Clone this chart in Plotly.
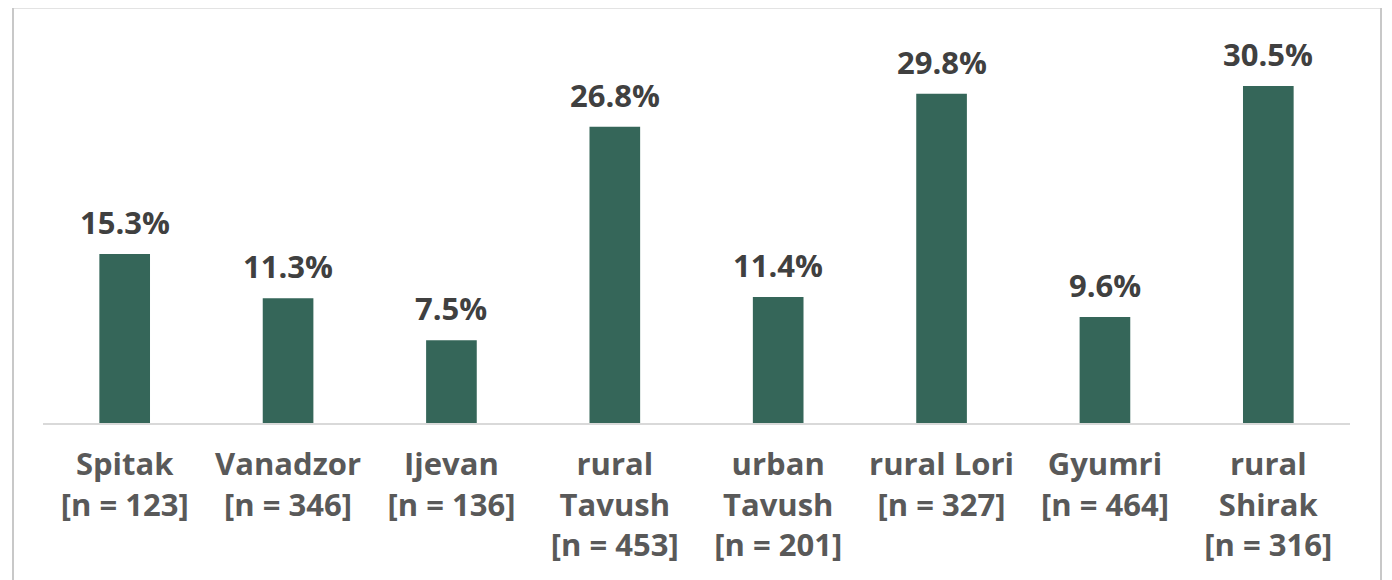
import plotly.graph_objects as go

categories = ["Spitak<br>[n = 123]", "Vanadzor<br>[n = 346]", "Ijevan<br>[n = 136]",
              "rural<br>Tavush<br>[n = 453]", "urban<br>Tavush<br>[n = 201]",
              "rural Lori<br>[n = 327]", "Gyumri<br>[n = 464]", "rural<br>Shirak<br>[n = 316]"]
values = [15.3, 11.3, 7.5, 26.8, 11.4, 29.8, 9.6, 30.5]
labels = [f"{v:.1f}%" for v in values]

# page body has an 8px margin, so figure coords = screen coords - 8
OFF = 8
W, H = 1392 - OFF, 580 - OFF
plot_left, plot_right, plot_top, plot_bottom = 43, 1350, 30, 423  # screen px
ml, mt = plot_left - OFF, plot_top - OFF
mr = W - (plot_right - OFF)
mb = H - (plot_bottom - OFF)
pw, ph = W - ml - mr, H - mt - mb

FONT = "Open Sans"

fig = go.Figure(go.Bar(
    x=categories, y=values,
    marker=dict(color="#356659", line=dict(width=0)),
    cliponaxis=False, width=0.31, hoverinfo="skip",
))

annotations = [dict(x=c, y=v, text=t, xref="x", yref="y", showarrow=False,
                    yanchor="bottom", yshift=9,
                    font=dict(family=FONT, size=31, color="#404040", weight="bold"))
               for c, v, t in zip(categories, values, labels)]

fig.update_layout(
    width=W, height=H, margin=dict(l=ml, r=mr, t=mt, b=mb),
    paper_bgcolor="white", plot_bgcolor="white", showlegend=False,
    xaxis=dict(showline=True, linecolor="#D9D9D9", linewidth=2, ticks="",
               tickfont=dict(family=FONT, size=31, color="#595959", weight="bold"),
               ticklabelstandoff=13, tickangle=0),
    yaxis=dict(range=[0, ph / 11.05], visible=False, showgrid=False),
    annotations=annotations,
    shapes=[dict(type="rect", xref="paper", yref="paper",
                 x0=(13 - plot_left) / pw, x1=(1381 - plot_left) / pw,
                 y0=-0.6, y1=(plot_bottom - OFF) / ph + 0.5 / ph,
                 line=dict(color="#C8C8C8", width=2), layer="below")],
)

fig.write_html("out.html")
